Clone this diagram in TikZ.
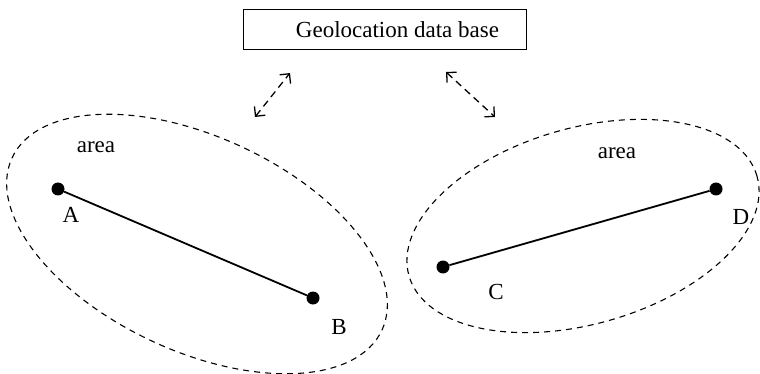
\documentclass[tikz,border=0pt]{standalone}
\usepackage{fontspec}
\setmainfont{Liberation Serif}
\usepackage{tikz}
\usetikzlibrary{arrows.meta,positioning}
\tikzset{
  dbbox/.style={draw=black, line width=1pt, minimum height=40pt, minimum width=283pt},
  site/.style={circle, fill=black, inner sep=0pt, minimum size=13pt},
  lbl/.style={font=\fontsize{23}{27}\selectfont, inner sep=0pt},
  zone/.style={dashed, dash pattern=on 6pt off 5pt, line width=1.1pt},
  link/.style={line width=1.8pt},
  query/.style={{Straight Barb[length=7pt,width=14pt]}-{Straight Barb[length=7pt,width=14pt]}, dash pattern=on 7pt off 5pt, line width=1.3pt}
}
\begin{document}
\begin{tikzpicture}[x=1pt, y=-1pt]
\useasboundingbox (0,0) rectangle (760,374);
\node[dbbox, label={[lbl, xshift=13pt]center:Geolocation data base}] (db) at (384.5,30) {};
\coordinate (q1a) at (255,117); \coordinate (q1b) at (290,73);
\coordinate (q2a) at (446,72); \coordinate (q2b) at (495,117);
\draw[query] (q1a)--(q1b); \draw[query] (q2a)--(q2b);
% left area
\draw[zone, rotate around={-25:(197,244)}] (197,244) ellipse [x radius=204pt, y radius=107pt];
\node[lbl] (al) at (96,147) {area};
\node[site] (A) at (58,189) {};
\node[site] (B) at (313,298) {};
\node[lbl] (la) at (71,215) {A};
\node[lbl] (lb) at (339,327) {B};
\draw[link] (A)--(B);
% right area
\draw[zone, rotate around={16:(583,226)}] (583,226) ellipse [x radius=181pt, y radius=98pt];
\node[lbl] (ar) at (617,153) {area};
\node[site] (C) at (443,267) {};
\node[site] (D) at (716,189) {};
\node[lbl] (lc) at (496,292) {C};
\node[lbl] (ld) at (741,217) {D};
\draw[link] (C)--(D);
\end{tikzpicture}
\end{document}
